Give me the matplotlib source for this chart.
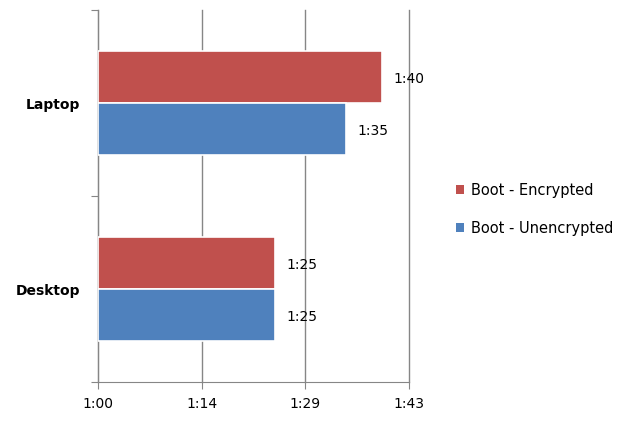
import matplotlib
matplotlib.use("Agg")
import matplotlib.pyplot as plt
from matplotlib.patches import Patch

# boot times in seconds
categories = ["Desktop", "Laptop"]
series_names = ["Boot - Encrypted", "Boot - Unencrypted"]
encrypted = [84.6, 99.5]
unencrypted = [84.6, 94.5]
colors = ["#C0504D", "#4F81BD"]

x_ticks = [60, 74.4, 88.8, 103.2]


def fmt_time(s):
    s = int(s + 0.5)
    return "%d:%02d" % (s // 60, s % 60)


fig = plt.figure(figsize=(6.29, 4.21), dpi=100)
ax = fig.add_axes([0.1558, 0.0926, 0.4940, 0.8834])

h = 0.28
ypos = list(range(len(categories)))
gray = "#868686"

ax.set_xlim(x_ticks[0], x_ticks[-1])
ax.set_ylim(-0.5, len(categories) - 0.5)
ax.set_xticks(x_ticks)
ax.set_xticklabels([fmt_time(t) for t in x_ticks], fontsize=10)
ax.xaxis.grid(True, color=gray, linewidth=1)
for gl in ax.get_xgridlines():
    gl.set_clip_on(False)
ax.set_axisbelow(True)

for vals, col, off in [(encrypted, colors[0], h / 2), (unencrypted, colors[1], -h / 2)]:
    widths = [v - x_ticks[0] for v in vals]
    ys = [y + off for y in ypos]
    ax.barh(ys, widths, left=x_ticks[0], height=h, color=col,
            edgecolor="white", linewidth=1.2, zorder=3)
    for y, v in zip(ys, vals):
        ax.text(v + 1.6, y - 0.01, fmt_time(v), va="center", ha="left", fontsize=10)

# category boundaries as major ticks, names as minor tick labels
ax.set_yticks([-0.5, 0.5, 1.5])
ax.set_yticklabels([])
ax.set_yticks(ypos, minor=True)
ax.set_yticklabels(categories, minor=True, fontweight="bold", fontsize=10)
ax.tick_params(axis="y", which="minor", length=0, pad=13)
ax.tick_params(axis="both", which="major", length=5, color=gray, direction="out")
ax.tick_params(axis="x", pad=6)

for side in ["top", "right"]:
    ax.spines[side].set_visible(False)
for side in ["left", "bottom"]:
    ax.spines[side].set_color(gray)

handles = [Patch(facecolor=c) for c in colors]
fig.legend(handles, series_names, loc="center left", bbox_to_anchor=(0.704, 0.503),
           frameon=False, fontsize=10.5, handlelength=0.55, handleheight=0.55,
           handletextpad=0.5, labelspacing=1.55)

fig.savefig("out.png", dpi=100)
